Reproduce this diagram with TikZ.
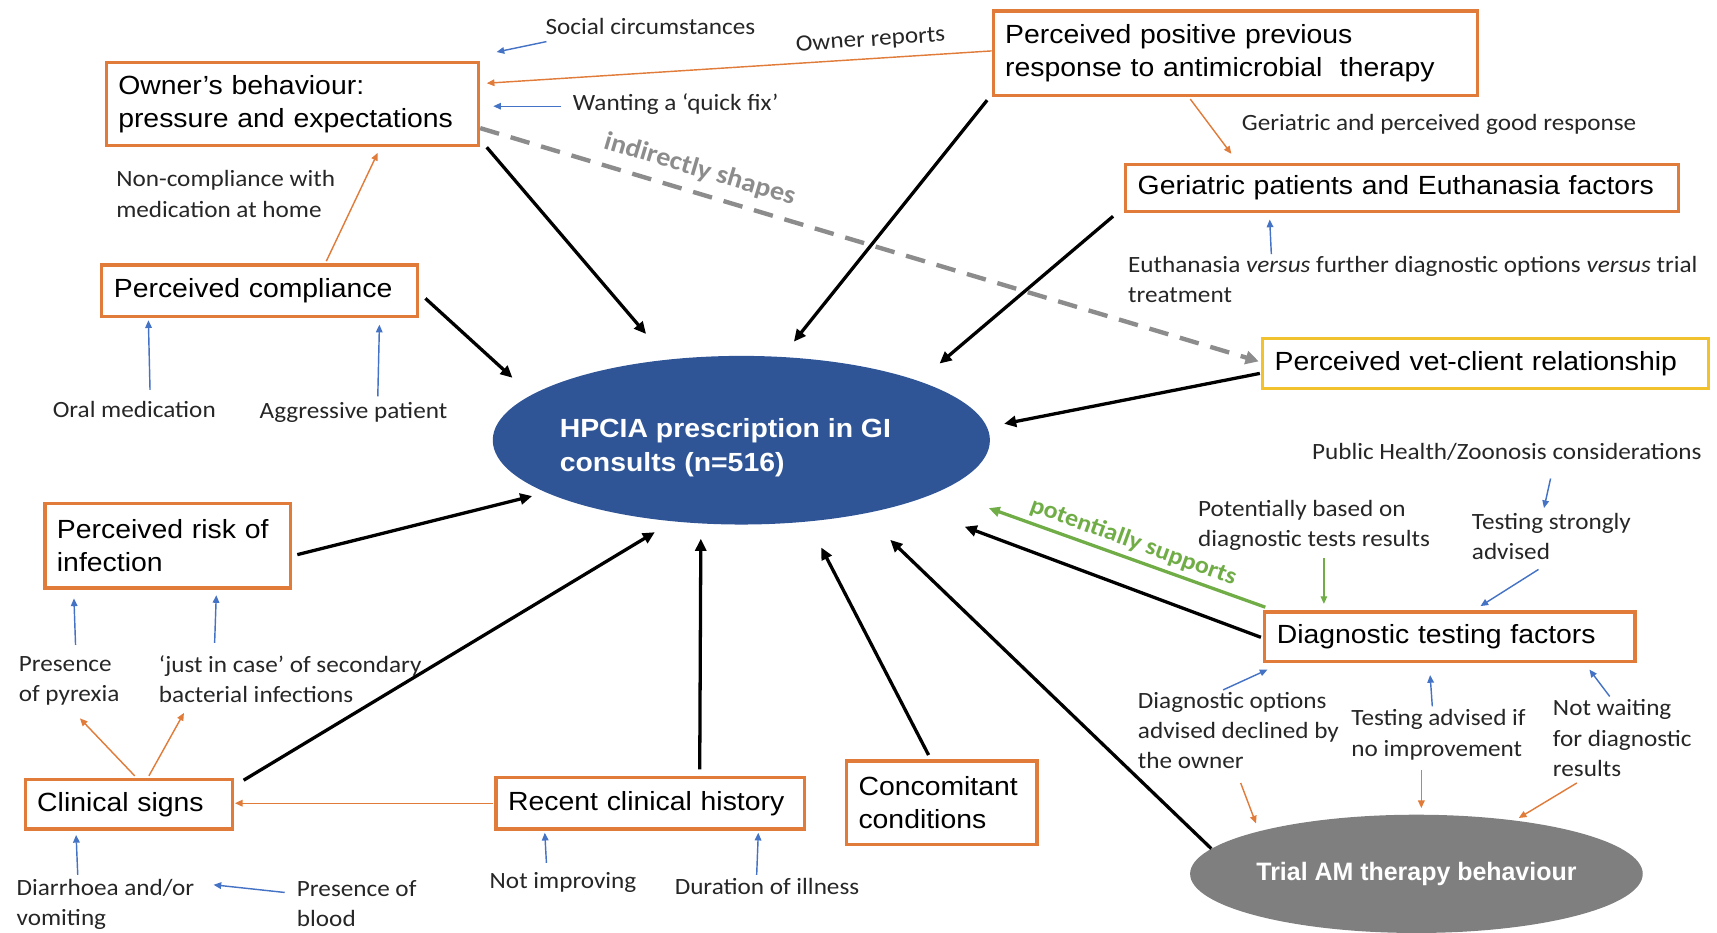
\documentclass[tikz,border=0pt]{standalone}
\usepackage{fontspec}
\setmainfont{Carlito}[FakeStretch=1.08]
\newfontfamily\boxfamily{Liberation Sans}[FakeStretch=1.08]
\newfontfamily\trialfamily{Liberation Sans}[FakeStretch=0.99]
\usetikzlibrary{arrows.meta,shapes.geometric}

\definecolor{boxorange}{HTML}{E07B39}
\definecolor{relyellow}{HTML}{F2C12E}
\definecolor{linkblue}{HTML}{4472C4}
\definecolor{suppgreen}{HTML}{70AD47}
\definecolor{dashgray}{HTML}{8C8C8C}
\definecolor{trialgray}{HTML}{7F7F7F}
\definecolor{hpblue}{HTML}{2F5597}
\definecolor{notegray}{HTML}{262626}

\begin{document}
\begin{tikzpicture}[x=1pt,y=-1pt,
  box/.style={draw=boxorange, line width=3pt, fill=white, rectangle,
    inner xsep=11pt, inner ysep=0pt, align=left, text=black,
    font=\boxfamily\fontsize{24}{30}\selectfont},
  note/.style={font=\fontsize{21.3}{27.7}\selectfont, text=notegray,
    align=left, anchor=west, inner sep=0pt},
  slanted/.style={inner sep=0pt, font=\bfseries\fontsize{#1}{#1}\selectfont},
  main/.style={-{Triangle[length=11pt,width=10pt]}, line width=3pt, black},
  thinblue/.style={-{Triangle[length=7pt,width=6pt]}, line width=1.3pt, linkblue},
  thinorange/.style={-{Triangle[length=7pt,width=6pt]}, line width=1.3pt, boxorange},
  thingreen/.style={-{Triangle[length=7pt,width=6pt]}, line width=1.3pt, suppgreen},
]
\useasboundingbox (0,0) rectangle (1568,852);

% ---- central outcome and trial therapy ellipses
\node[ellipse, fill=hpblue, minimum width=454pt, minimum height=154pt, inner sep=0pt] (hpcia) at (677,402) {};
\node[font=\boxfamily\bfseries\fontsize{24}{31}\selectfont, text=white, align=left,
  anchor=west, inner sep=0pt] (hpciatext) at (511,409) {HPCIA prescription in GI\\consults (n=516)};
\node[ellipse, fill=trialgray, minimum width=413pt, minimum height=108pt, inner sep=0pt,
  font=\trialfamily\bfseries\fontsize{23}{28}\selectfont, text=white] (trial) at (1293.5,798) {Trial AM therapy behaviour};

% ---- factor boxes
\node[box, minimum width=340pt, minimum height=76pt, text width=318pt] (owner) at (267,95)
  {Owner’s behaviour:\\pressure and expectations};
\node[box, minimum width=442pt, minimum height=77pt, text width=420pt] (positive) at (1128,48.5)
  {Perceived positive previous\\response to antimicrobial\ \ therapy};
\node[box, minimum width=505pt, minimum height=43pt, text width=483pt] (geri) at (1280.5,171.5)
  {Geriatric patients and Euthanasia factors};
\node[box, minimum width=288pt, minimum height=47pt, text width=266pt] (compliance) at (237,265.5)
  {Perceived compliance};
\node[box, draw=relyellow, minimum width=407pt, minimum height=46pt, text width=385pt] (vet) at (1356.5,332)
  {Perceived vet-client relationship};
\node[box, minimum width=224pt, minimum height=77pt, text width=202pt] (risk) at (153,498.5)
  {Perceived risk of\\infection};
\node[box, minimum width=338pt, minimum height=45pt, text width=316pt] (diag) at (1324,581.5)
  {Diagnostic testing factors};
\node[box, minimum width=189pt, minimum height=45pt, text width=167pt] (clin) at (117.5,734.5)
  {Clinical signs};
\node[box, minimum width=282pt, minimum height=47pt, text width=260pt] (recent) at (594,733.5)
  {Recent clinical history};
\node[box, minimum width=174pt, minimum height=76pt, text width=152pt] (concom) at (860,733)
  {Concomitant\\conditions};

% ---- explanatory notes
\node[note] (social) at (498,24) {Social circumstances};
\node[note, anchor=center, rotate=3.8] (ownerrep) at (795,37) {Owner reports};
\node[note] (quickfix) at (523,95) {Wanting a ‘quick fix’};
\node[note] (goodresp) at (1134,114) {Geriatric and perceived good response};
\node[note] (noncomp) at (106,177) {Non-compliance with\\medication at home};
\node[note] (euth) at (1030,255) {Euthanasia \textit{versus} further diagnostic options \textit{versus} trial\\treatment};
\node[note] (oral) at (48,374) {Oral medication};
\node[note] (aggr) at (237,377) {Aggressive patient};
\node[note] (pubhealth) at (1198,413) {Public Health/Zoonosis considerations};
\node[note] (potbased) at (1094,480) {Potentially based on\\diagnostic tests results};
\node[note] (teststrong) at (1344,490) {Testing strongly\\advised};
\node[note] (pyrexia) at (17,622) {Presence\\of pyrexia};
\node[note] (justincase) at (145,620) {‘just in case’ of secondary\\bacterial infections};
\node[note] (diagopt) at (1039,667) {Diagnostic options\\advised declined by\\the owner};
\node[note] (testadv) at (1234,671) {Testing advised if\\no improvement};
\node[note] (notwait) at (1418,674) {Not waiting\\for diagnostic\\results};
\node[note] (diarr) at (15,826) {Diarrhoea and/or\\vomiting};
\node[note] (blood) at (271,825) {Presence of\\blood};
\node[note] (notimp) at (447,806) {Not improving};
\node[note] (duration) at (616,810) {Duration of illness};

% ---- arrow end points next to the central ellipse
\coordinate (inOwner) at (590,305);
\coordinate (inPositive) at (725,312);
\coordinate (inGeri) at (858,332);
\coordinate (inCompl) at (468,345);
\coordinate (inVet) at (917,387);
\coordinate (inDiag) at (881,481);
\coordinate (inGreen) at (903,464);
\coordinate (inRisk) at (486,453);
\coordinate (inClin) at (598,486);
\coordinate (inRecent) at (640,492);
\coordinate (inConcom) at (750,500);
\coordinate (inTrial) at (813,493);

% ---- main influences on prescribing
\draw[main] ([shift={(6,0)}]owner.south east) -- (inOwner);
\draw[main] ([shift={(-4,3)}]positive.south west) -- (inPositive);
\draw[main] ([shift={(-10,3)}]geri.south west) -- (inGeri);
\draw[main] ([shift={(6,7)}]compliance.east) -- (inCompl);
\draw[main] ([shift={(-1,9)}]vet.west) -- (inVet);
\draw[main] ([shift={(-2,0.5)}]diag.west) -- (inDiag);
\draw[main] ([shift={(5,8)}]risk.east) -- (inRisk);
\draw[main] ([shift={(9,2)}]clin.north east) -- (inClin);
\draw[main] ([shift={(45,-6)}]recent.north) -- (inRecent);
\draw[main] ([shift={(-12,-4)}]concom.north) -- (inConcom);
\draw[main] (trial.173) -- (inTrial);

% ---- indirect and supporting links
\draw[dashgray, line width=4pt, dash pattern=on 18pt off 11pt,
  -{Triangle[length=12pt,width=12pt]}] ([shift={(0,22)}]owner.east) -- ([shift={(-2,-2)}]vet.west);
\node[slanted=24, text=dashgray, rotate=-16.6] (indir) at (639,155) {indirectly shapes};
\draw[suppgreen, line width=3pt, -{Triangle[length=10pt,width=9pt]}] ([shift={(2,-3)}]diag.north west) -- (inGreen);
\node[slanted=22, text=suppgreen, rotate=-20] (potsup) at (1035,495) {potentially supports};

% ---- orange links between factors
\draw[thinorange] ([shift={(0,-2)}]positive.west) -- ([shift={(6,-19)}]owner.east);
\draw[thinorange] ([shift={(-41,2)}]positive.south) -- ([shift={(-156,-8)}]geri.north);
\draw[thinorange] ([shift={(61,-2)}]compliance.north) -- ([shift={(78,5)}]owner.south);
\coordinate (toPyrexia) at (73,656);
\coordinate (toJust) at (168,651);
\draw[thinorange] ([shift={(5.5,-2)}]clin.north) -- (toPyrexia);
\draw[thinorange] ([shift={(18.5,-2)}]clin.north) -- (toJust);
\draw[thinorange] ([shift={(-1,0)}]recent.west) -- ([shift={(1,-1)}]clin.east);
\coordinate (fromDiagopt) at (1133,715);
\coordinate (fromTestadv) at (1298,703);
\coordinate (fromNotwait) at (1440,715);
\draw[thinorange] (fromDiagopt) -- (1147,752);
\draw[thinorange] (fromTestadv) -- (1298,738);
\draw[thinorange] (fromNotwait) -- (1387,747);

% ---- blue contributing notes
\coordinate (fromSocial) at (499,38);
\coordinate (fromQuick) at (512,97);
\coordinate (fromOral) at (137,356);
\coordinate (fromAggr) at (345,362);
\coordinate (fromEuth) at (1161,232);
\coordinate (fromPub) at (1416,437);
\coordinate (fromStrong) at (1405,520);
\coordinate (fromDiagopt2) at (1117,630);
\coordinate (fromTestadv2) at (1308,645);
\coordinate (fromNotwait2) at (1470,636);
\coordinate (fromPyrexia) at (69,589);
\coordinate (fromJust) at (196,587);
\coordinate (fromDiarr) at (71,799);
\coordinate (fromBlood) at (260,815);
\coordinate (toDiarr) at (195,808);
\coordinate (fromNotimp) at (499,788);
\coordinate (fromDuration) at (691,799);
\coordinate (toStrong) at (1410,464);
\coordinate (fromPotbased) at (1209,510);

\draw[thinblue] (fromSocial) -- ([shift={(15,-8)}]owner.north east);
\draw[thinblue] (fromQuick) -- ([shift={(12,2)}]owner.east);
\draw[thinblue] (fromOral) -- ([shift={(44,2)}]compliance.south west);
\draw[thinblue] (fromAggr) -- ([shift={(-36,6)}]compliance.south east);
\draw[thinblue] (fromEuth) -- ([shift={(133,6)}]geri.south west);
\draw[thinblue] (fromPub) -- (toStrong);
\draw[thinblue] (fromStrong) -- ([shift={(28,-4)}]diag.north);
\draw[thinblue] (fromDiagopt2) -- ([shift={(4,6)}]diag.south west);
\draw[thinblue] (fromTestadv2) -- ([shift={(-18,11)}]diag.south);
\draw[thinblue] (fromNotwait2) -- ([shift={(-43,6)}]diag.south east);
\draw[thinblue] (fromPyrexia) -- ([shift={(28,8)}]risk.south west);
\draw[thinblue] (fromJust) -- ([shift={(-69,5)}]risk.south east);
\draw[thinblue] (fromDiarr) -- ([shift={(48,4)}]clin.south west);
\draw[thinblue] (fromBlood) -- (toDiarr);
\draw[thinblue] (fromNotimp) -- ([shift={(46,2)}]recent.south west);
\draw[thinblue] (fromDuration) -- ([shift={(-44,2)}]recent.south east);
\draw[thingreen] (fromPotbased) -- ([shift={(-115,-6)}]diag.north);
\end{tikzpicture}
\end{document}
